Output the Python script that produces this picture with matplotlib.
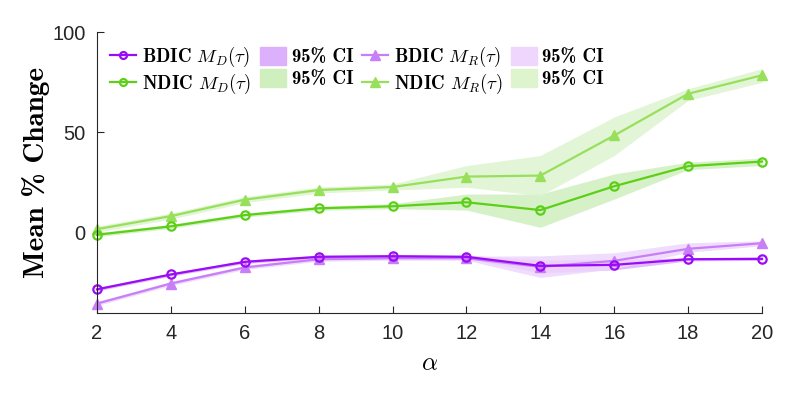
import numpy as np
import matplotlib
matplotlib.use('Agg')
import matplotlib.pyplot as plt
from matplotlib.patches import Patch
from matplotlib.lines import Line2D

plt.rcParams['mathtext.fontset'] = 'cm'
plt.rcParams['font.family'] = 'Liberation Sans'

alpha = [2, 4, 6, 8, 10, 12, 14, 16, 18, 20]

# BDIC
bdic_md = [-28.2, -20.8, -14.5, -12.0, -11.7, -12.0, -16.5, -16.0, -13.2, -13.0]
bdic_md_lo = [-29.0, -21.6, -15.3, -12.8, -12.5, -12.8, -20.0, -18.5, -14.0, -13.8]
bdic_md_hi = [-27.4, -20.0, -13.7, -11.2, -10.9, -11.2, -13.5, -13.5, -12.4, -12.2]
bdic_mr = [-35.3, -25.3, -17.3, -13.2, -12.7, -12.7, -17.0, -14.0, -8.0, -5.2]
bdic_mr_lo = [-36.3, -26.3, -18.3, -14.2, -13.7, -13.7, -22.3, -18.0, -9.7, -6.5]
bdic_mr_hi = [-34.3, -24.3, -16.3, -12.2, -11.7, -11.7, -11.5, -10.0, -5.0, -4.0]

# NDIC
ndic_md = [-1.0, 3.2, 8.8, 12.2, 13.2, 15.2, 11.3, 23.2, 33.2, 35.5]
ndic_md_lo = [-2.0, 2.2, 7.8, 11.2, 12.0, 11.3, 2.7, 16.8, 31.5, 33.5]
ndic_md_hi = [0.0, 4.2, 9.8, 13.2, 14.5, 19.3, 19.3, 29.3, 35.2, 37.2]
ndic_mr = [1.8, 8.3, 16.5, 21.3, 22.8, 28.0, 28.5, 48.5, 69.3, 78.5]
ndic_mr_lo = [0.3, 6.8, 15.0, 19.8, 21.3, 22.7, 18.5, 38.5, 66.0, 75.0]
ndic_mr_hi = [3.3, 9.8, 18.0, 22.8, 24.3, 33.5, 38.5, 57.7, 71.8, 81.8]

c_bmd, f_bmd = '#9a0cf5', '#dcb0fb'
c_bmr, f_bmr = '#c77ef7', '#eed6fc'
c_nmd, f_nmd = '#5ccf17', '#cfefbf'
c_nmr, f_nmr = '#98e05c', '#ddf4cf'

fig = plt.figure(figsize=(7.93, 3.97), dpi=100)
ax = fig.add_axes([0.1223, 0.2116, 0.8387, 0.7074])

ax.fill_between(alpha, bdic_md_lo, bdic_md_hi, color=f_bmd, lw=0, alpha=0.85)
ax.fill_between(alpha, bdic_mr_lo, bdic_mr_hi, color=f_bmr, lw=0, alpha=0.85)
ax.fill_between(alpha, ndic_md_lo, ndic_md_hi, color=f_nmd, lw=0, alpha=0.85)
ax.fill_between(alpha, ndic_mr_lo, ndic_mr_hi, color=f_nmr, lw=0, alpha=0.85)

ax.plot(alpha, bdic_mr, color=c_bmr, lw=1.6, marker='^', ms=7, clip_on=False)
ax.plot(alpha, bdic_md, color=c_bmd, lw=1.6, marker='o', ms=6, mfc='none', mew=1.6, clip_on=False)
ax.plot(alpha, ndic_mr, color=c_nmr, lw=1.6, marker='^', ms=7, clip_on=False)
ax.plot(alpha, ndic_md, color=c_nmd, lw=1.6, marker='o', ms=6, mfc='none', mew=1.6, clip_on=False)

ax.set_xlim(2, 20)
ax.set_ylim(-40, 100)
ax.set_xticks(alpha)
ax.set_yticks([0, 50, 100])
ax.spines['top'].set_visible(False)
ax.spines['right'].set_visible(False)
for s in ['left', 'bottom']:
    ax.spines[s].set_color('#262626')
    ax.spines[s].set_linewidth(0.8)
ax.tick_params(direction='in', length=5, width=0.8, colors='#262626', labelsize=14.5, pad=8)

ax.set_xlabel(r'$\alpha$', fontsize=18, labelpad=6)
ax.set_ylabel('Mean % Change', family='cmb10', fontsize=21, labelpad=2)

h_bmd = Line2D([], [], color=c_bmd, lw=1.6, marker='o', ms=5, mfc='none', mew=1.6)
h_nmd = Line2D([], [], color=c_nmd, lw=1.6, marker='o', ms=5, mfc='none', mew=1.6)
h_bmr = Line2D([], [], color=c_bmr, lw=1.6, marker='^', ms=7)
h_nmr = Line2D([], [], color=c_nmr, lw=1.6, marker='^', ms=7)
p_bmd = Patch(color=f_bmd)
p_nmd = Patch(color=f_nmd)
p_bmr = Patch(color=f_bmr)
p_nmr = Patch(color=f_nmr)
ci = '95% CI'
handles = [h_bmd, h_nmd, p_bmd, p_nmd, h_bmr, h_nmr, p_bmr, p_nmr]
labels = [r'BDIC $M_D(\tau)$', r'NDIC $M_D(\tau)$', ci, ci,
          r'BDIC $M_R(\tau)$', r'NDIC $M_R(\tau)$', ci, ci]
ax.legend(handles, labels, ncol=4, loc='upper left', bbox_to_anchor=(0.0, 1.0),
          frameon=False, prop={'family': 'cmb10', 'size': 13.5},
          handlelength=1.4, handleheight=1.05, handletextpad=0.3,
          columnspacing=0.45, labelspacing=0.15, borderaxespad=0.3)

fig.savefig('out.png', dpi=100)
